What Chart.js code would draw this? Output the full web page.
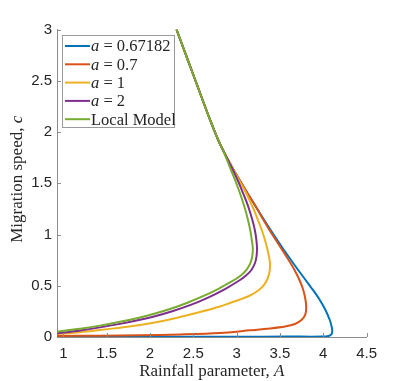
<!DOCTYPE html>
<html>
<head>
<meta charset="utf-8">
<script src="https://cdn.jsdelivr.net/npm/chart.js@4.4.0/dist/chart.umd.min.js"></script>
<style>
  body { margin: 0; background: #fff; }
  canvas { display: block; }
</style>
</head>
<body>
<canvas id="myChart" width="407" height="381"></canvas>
<script>
// branch shared by every curve at high speed (A, c)
var upperA = [2.306, 2.437, 2.565, 2.672, 2.739, 2.787, 2.842];
var upperC = [3.000, 2.702, 2.410, 2.166, 2.020, 1.922, 1.824];

var blueA = [2.902, 2.966, 3.034, 3.103, 3.174, 3.245, 3.318, 3.392, 3.468, 3.546, 3.627, 3.710, 3.796, 3.881, 3.960, 4.025, 4.075, 4.095, 4.104, 4.095, 4.060, 3.985, 3.600, 3.000, 2.000, 0.927];
var blueC = [1.727, 1.629, 1.532, 1.434, 1.337, 1.239, 1.141, 1.044, 0.946, 0.849, 0.751, 0.654, 0.556, 0.459, 0.361, 0.263, 0.166, 0.107, 0.059, 0.029, 0.010, 0.004, 0.004, 0.003, 0.003, 0.003];

var orangeA = [2.902, 2.966, 3.034, 3.103, 3.174, 3.245, 3.310, 3.379, 3.452, 3.526, 3.600, 3.668, 3.725, 3.769, 3.795, 3.803, 3.791, 3.748, 3.673, 3.558, 3.384, 3.154, 2.808, 2.347, 1.885, 1.423, 0.927];
var orangeC = [1.727, 1.629, 1.532, 1.434, 1.337, 1.239, 1.141, 1.044, 0.946, 0.849, 0.751, 0.654, 0.556, 0.459, 0.361, 0.283, 0.215, 0.166, 0.127, 0.102, 0.083, 0.065, 0.039, 0.025, 0.017, 0.013, 0.010];

var yellowA = [2.902, 2.966, 3.027, 3.091, 3.148, 3.200, 3.246, 3.290, 3.327, 3.357, 3.377, 3.385, 3.379, 3.356, 3.310, 3.241, 3.154, 3.039, 2.923, 2.808, 2.577, 2.347, 2.116, 1.885, 1.654, 1.423, 1.193, 0.927];
var yellowC = [1.727, 1.629, 1.532, 1.434, 1.337, 1.239, 1.141, 1.044, 0.946, 0.849, 0.771, 0.702, 0.634, 0.566, 0.502, 0.449, 0.405, 0.366, 0.332, 0.298, 0.244, 0.195, 0.151, 0.117, 0.091, 0.068, 0.047, 0.029];

var purpleA = [2.900, 2.958, 3.010, 3.060, 3.106, 3.147, 3.182, 3.210, 3.228, 3.235, 3.230, 3.212, 3.171, 3.108, 3.039, 2.866, 2.658, 2.462, 2.266, 2.058, 1.885, 1.654, 1.423, 1.193, 0.927];
var purpleC = [1.727, 1.629, 1.532, 1.434, 1.337, 1.239, 1.141, 1.044, 0.946, 0.868, 0.790, 0.722, 0.654, 0.600, 0.556, 0.468, 0.380, 0.311, 0.254, 0.203, 0.168, 0.128, 0.094, 0.064, 0.035];

var greenA = [2.889, 2.935, 2.981, 3.025, 3.065, 3.101, 3.131, 3.157, 3.175, 3.187, 3.181, 3.160, 3.120, 3.062, 2.981, 2.877, 2.785, 2.612, 2.439, 2.266, 2.058, 1.885, 1.654, 1.423, 1.193, 0.927];
var greenC = [1.727, 1.629, 1.532, 1.434, 1.337, 1.239, 1.141, 1.044, 0.946, 0.868, 0.790, 0.722, 0.663, 0.610, 0.561, 0.512, 0.468, 0.398, 0.337, 0.283, 0.229, 0.191, 0.148, 0.111, 0.080, 0.052];

var seriesNames = ['0.67182', '0.7', '1', '2', 'Local Model'];
var seriesColors = ['#0072BD', '#D95319', '#EDB120', '#7E2F8E', '#77AC30'];

var xTicks = [1, 1.5, 2, 2.5, 3, 3.5, 4, 4.5];
var yTicks = [0, 0.5, 1, 1.5, 2, 2.5, 3];

var axisColor = '#8c8c8c';
var textColor = '#262626';

function makePoints(a, c) {
    var pts = [];
    for (var i = 0; i < upperA.length; i++) pts.push({ x: upperA[i], y: upperC[i] });
    for (var j = 0; j < a.length; j++) pts.push({ x: a[j], y: c[j] });
    return pts;
}

var allA = [blueA, orangeA, yellowA, purpleA, greenA];
var allC = [blueC, orangeC, yellowC, purpleC, greenC];

var datasets = [];
for (var k = 0; k < seriesNames.length; k++) {
    datasets.push({
        label: seriesNames[k],
        data: makePoints(allA[k], allC[k]),
        showLine: true,
        borderColor: seriesColors[k],
        backgroundColor: seriesColors[k],
        borderWidth: 2,
        pointRadius: 0,
        tension: 0.3,
        order: seriesNames.length - k
    });
}

// MATLAB style ticks pointing into the axes
var innerTicks = {
    id: 'innerTicks',
    afterDraw: function (chart) {
        var ctx = chart.ctx;
        var xs = chart.scales.x, ys = chart.scales.y;
        var area = chart.chartArea;
        ctx.save();
        ctx.strokeStyle = axisColor;
        ctx.lineWidth = 1;
        ctx.beginPath();
        xTicks.forEach(function (v) {
            var px = Math.round(xs.getPixelForValue(v)) + 0.5;
            ctx.moveTo(px, area.bottom);
            ctx.lineTo(px, area.bottom - 4);
        });
        yTicks.forEach(function (v) {
            var py = Math.round(ys.getPixelForValue(v)) + 0.5;
            ctx.moveTo(area.left, py);
            ctx.lineTo(area.left + 4, py);
        });
        ctx.stroke();
        ctx.restore();
    }
};

function drawMixed(ctx, parts, x, y, align) {
    var total = 0;
    parts.forEach(function (p) { ctx.font = p.font; total += ctx.measureText(p.text).width; });
    var cx = align === 'center' ? x - total / 2 : x;
    parts.forEach(function (p) {
        ctx.font = p.font;
        ctx.fillText(p.text, cx, y);
        cx += ctx.measureText(p.text).width;
    });
}

var titleFont = '17px "Liberation Serif", serif';
var titleIt = 'italic 17px "Liberation Serif", serif';
var legFont = '16.5px "Liberation Serif", serif';
var legIt = 'italic 16.5px "Liberation Serif", serif';

var axisTitles = {
    id: 'axisTitles',
    afterDraw: function (chart) {
        var ctx = chart.ctx;
        var area = chart.chartArea;
        ctx.save();
        ctx.fillStyle = textColor;
        ctx.textAlign = 'left';
        ctx.textBaseline = 'middle';
        drawMixed(ctx, [{ text: 'Rainfall parameter, ', font: titleFont }, { text: 'A', font: titleIt }],
            (area.left + area.right) / 2, 372, 'center');
        ctx.translate(18, (area.top + area.bottom) / 2 - 4);
        ctx.rotate(-Math.PI / 2);
        drawMixed(ctx, [{ text: 'Migration speed, ', font: titleFont }, { text: 'c', font: titleIt }],
            0, 0, 'center');
        ctx.restore();
    }
};

var boxLegend = {
    id: 'boxLegend',
    afterDraw: function (chart) {
        var ctx = chart.ctx;
        var left = 62.5, top = 35.5, w = 112, h = 92;
        ctx.save();
        ctx.fillStyle = '#fff';
        ctx.fillRect(left, top, w, h);
        ctx.strokeStyle = '#9a9a9a';
        ctx.lineWidth = 1;
        ctx.strokeRect(left, top, w, h);
        ctx.textBaseline = 'middle';
        ctx.fillStyle = textColor;
        for (var i = 0; i < seriesNames.length; i++) {
            var y = 46 + i * 18.3;
            ctx.strokeStyle = seriesColors[i];
            ctx.lineWidth = 2;
            ctx.beginPath();
            ctx.moveTo(65, y);
            ctx.lineTo(90, y);
            ctx.stroke();
            if (seriesNames[i] === 'Local Model') {
                drawMixed(ctx, [{ text: 'Local Model', font: legFont }], 91, y + 1, 'left');
            } else {
                drawMixed(ctx, [{ text: 'a', font: legIt }, { text: ' = ' + seriesNames[i], font: legFont }], 91, y + 1, 'left');
            }
        }
        ctx.restore();
    }
};

var ctx = document.getElementById('myChart');
var myChart = new Chart(ctx, {
    type: 'scatter',
    data: { datasets: datasets },
    options: {
        responsive: false,
        animation: false,
        layout: { padding: { top: 29.5, right: 40.4, bottom: 0, left: 0 } },
        plugins: {
            legend: { display: false },
            tooltip: { enabled: false }
        },
        scales: {
            x: {
                type: 'linear',
                min: 0.927,
                max: 4.5,
                afterBuildTicks: function (scale) {
                    scale.ticks = xTicks.map(function (v) { return { value: v }; });
                },
                afterFit: function (scale) { scale.height = 44; },
                grid: { display: true, drawOnChartArea: false, drawTicks: false },
                border: { display: true, color: axisColor, width: 1 },
                ticks: {
                    color: textColor,
                    padding: 8,
                    maxRotation: 0,
                    font: { family: '"Liberation Sans", Arial, sans-serif', size: 15 },
                    callback: function (v) { return String(v); }
                }
            },
            y: {
                type: 'linear',
                min: 0,
                max: 3,
                afterBuildTicks: function (scale) {
                    scale.ticks = yTicks.map(function (v) { return { value: v }; });
                },
                afterFit: function (scale) { scale.width = 57; },
                grid: { display: true, drawOnChartArea: false, drawTicks: false },
                border: { display: true, color: axisColor, width: 1 },
                ticks: {
                    color: textColor,
                    padding: 5,
                    font: { family: '"Liberation Sans", Arial, sans-serif', size: 15 },
                    callback: function (v) { return String(v); }
                }
            }
        }
    },
    plugins: [innerTicks, axisTitles, boxLegend]
});
</script>
</body>
</html>
